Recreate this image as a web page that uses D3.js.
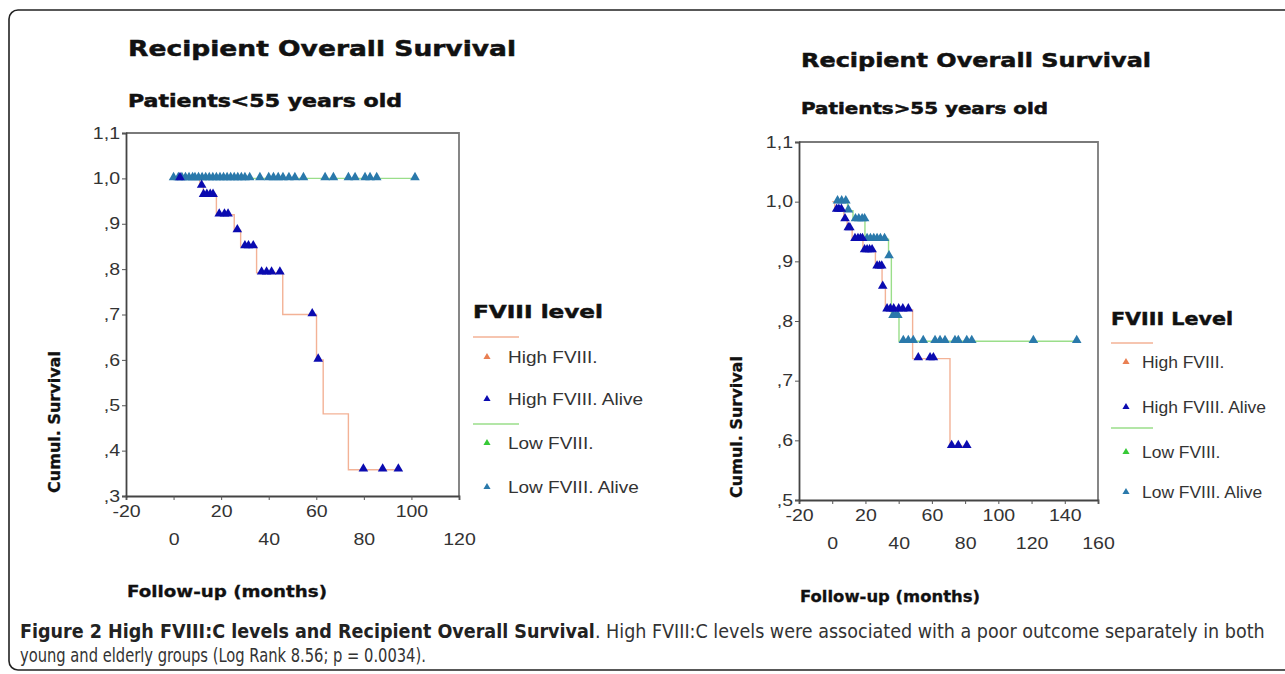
<!DOCTYPE html>
<html>
<head>
<meta charset="utf-8">
<script src="https://cdn.jsdelivr.net/npm/d3@7"></script>
<style>
  body { margin: 0; background: #fff; }
  svg { display: block; }
  .ttl { font-family: "DejaVu Sans", Verdana, sans-serif; font-weight: bold; fill: #111; stroke: #111; stroke-width: 0.5; }
  .tick text, .lbl { font-family: "Liberation Sans", Arial, sans-serif; fill: #333; }
  .axlab { font-family: "DejaVu Sans", Verdana, sans-serif; font-weight: bold; fill: #111; stroke: #111; stroke-width: 0.3; }
  .cap { font-family: "Liberation Sans Narrow", "DejaVu Sans Condensed", "Liberation Sans", sans-serif; fill: #333; }
</style>
</head>
<body>
<div id="chart"></div>
<script>
// ---- data ----
const legendLabels = ["High FVIII.", "High FVIII. Alive", "Low FVIII.", "Low FVIII. Alive"];
const xTicksLeft = [-20, 0, 20, 40, 60, 80, 100, 120];
const xTicksRight = [-20, 0, 20, 40, 60, 80, 100, 120, 140, 160];
const yTicksLeft = [0.3, 0.4, 0.5, 0.6, 0.7, 0.8, 0.9, 1.0, 1.1];
const yTicksRight = [0.5, 0.6, 0.7, 0.8, 0.9, 1.0, 1.1];

// patients < 55 : [month, survival] where the curve steps
const highStepsYoung = [[0, 1.0], [11, 0.983], [12.5, 0.963], [18, 0.92], [25.5, 0.885], [28.2, 0.85],
  [34.9, 0.792], [45.9, 0.70], [60.1, 0.60], [62.9, 0.481], [73.5, 0.358]];
const highEndYoung = 96;
const highCensYoung = [[2.7, 1.0], [11.8, 0.983], [12.6, 0.963], [14, 0.963], [15.4, 0.963], [16.6, 0.963],
  [19.2, 0.92], [21.4, 0.92], [22.9, 0.92], [26.8, 0.885], [30, 0.85], [31.5, 0.85], [33.5, 0.85],
  [37, 0.792], [39.1, 0.792], [41.2, 0.792], [44.7, 0.792], [58.3, 0.70], [60.8, 0.60],
  [79.8, 0.358], [87.9, 0.358], [94.5, 0.358]];
const lowStepsYoung = [[0, 1.0]];
const lowEndYoung = 101.5;
const lowCensYoung = [[0, 1.0], [2, 1.0], [3.5, 1.0], [5, 1.0], [6.5, 1.0], [8, 1.0], [9, 1.0], [10.5, 1.0],
  [12, 1.0], [13.5, 1.0], [15, 1.0], [16.5, 1.0], [18, 1.0], [19.5, 1.0], [21, 1.0], [22.5, 1.0], [24, 1.0],
  [25.5, 1.0], [27, 1.0], [28.5, 1.0], [30, 1.0], [32, 1.0], [36.3, 1.0], [40, 1.0], [42, 1.0], [44, 1.0],
  [46, 1.0], [48.5, 1.0], [51, 1.0], [54.6, 1.0], [63.7, 1.0], [67.2, 1.0], [73.5, 1.0], [76.3, 1.0],
  [80.5, 1.0], [82.6, 1.0], [85.4, 1.0], [101.5, 1.0]];

// patients > 55
const highStepsOld = [[0, 1.0], [1.5, 0.986], [7, 0.970], [9, 0.955], [12, 0.937], [18.5, 0.918],
  [26, 0.891], [30, 0.857], [32, 0.819], [48.4, 0.737], [70.9, 0.590]];
const highEndOld = 83;
const highCensOld = [[2.7, 0.986], [4, 0.986], [5.5, 0.986], [7.7, 0.970], [9.7, 0.955], [10.6, 0.955],
  [13.7, 0.937], [15.5, 0.937], [17, 0.937], [18.2, 0.937], [19.5, 0.918], [21, 0.918], [22.5, 0.918],
  [24, 0.918], [27, 0.891], [28.5, 0.891], [29.8, 0.891], [30.4, 0.857], [33, 0.819], [35, 0.819],
  [37, 0.819], [40, 0.819], [42.5, 0.819], [45.8, 0.819], [51.8, 0.737], [58.9, 0.737], [60.9, 0.737],
  [71.9, 0.590], [75.9, 0.590], [81, 0.590]];
const lowStepsOld = [[2, 1.0], [9.2, 0.985], [12.5, 0.970], [19.7, 0.937], [33.9, 0.908], [35.6, 0.808],
  [40.2, 0.766]];
const lowEndOld = 149.2;
const lowCensOld = [[3.2, 1.0], [5.7, 1.0], [8.2, 1.0], [9.7, 0.985], [14, 0.970], [16, 0.970], [18, 0.970],
  [19.5, 0.970], [21, 0.937], [23, 0.937], [25, 0.937], [27, 0.937], [29, 0.937], [31.5, 0.937],
  [34.2, 0.908], [36.6, 0.808], [38.2, 0.808], [39.5, 0.808], [42.8, 0.766], [45.8, 0.766], [48.8, 0.766],
  [54.8, 0.766], [61.9, 0.766], [64.9, 0.766], [67.9, 0.766], [73.9, 0.766], [75.9, 0.766], [81, 0.766],
  [84, 0.766], [121.1, 0.766], [147.2, 0.766]];

const colHighLine = "#f3b296", colLowLine = "#9ade8a";
const colHighDot = "#e97f52", colHighAlive = "#0b0bb0", colLowDot = "#36c936", colLowAlive = "#2a79ab";

const W = 1285, H = 674;
const svg = d3.select("#chart").append("svg").attr("width", W).attr("height", H);

// outer frame
svg.append("rect").attr("x", 9).attr("y", 10).attr("width", 1300).attr("height", 660)
  .attr("rx", 9).attr("fill", "none").attr("stroke", "#222").attr("stroke-width", 1.6);

function fit(sel, len) {
  sel.attr("textLength", len).attr("lengthAdjust", "spacingAndGlyphs");
}
// widen text by a factor (the source fonts are drawn wider than Arial)
function stretch(sel, k) {
  sel.each(function () {
    const w = this.getComputedTextLength();
    d3.select(this).attr("textLength", w * k).attr("lengthAdjust", "spacingAndGlyphs");
  });
}

const yFmt = d => d >= 1 ? d.toFixed(1).replace(".", ",") : "," + Math.round(d * 10);

function drawPanel(p) {
  const x = d3.scaleLinear().domain(p.xDom).range([p.left, p.right]);
  const y = d3.scaleLinear().domain(p.yDom).range([p.bottom, p.top]);
  const g = svg.append("g");

  // titles
  g.append("text").attr("class", "ttl").attr("x", p.left + 2).attr("y", p.titleY)
    .attr("font-size", p.titleSize).text("Recipient Overall Survival").call(fit, p.titleW);
  g.append("text").attr("class", "ttl").attr("x", p.left + 2).attr("y", p.subY)
    .attr("font-size", p.subSize).text(p.sub).call(fit, p.subW);

  // frame top/right
  g.append("path").attr("d", `M${p.left},${p.top}H${p.right}V${p.bottom}`)
    .attr("fill", "none").attr("stroke", "#7a7a7a").attr("stroke-width", 1.8);

  // axes
  const xa = g.append("g").attr("transform", `translate(0,${p.bottom})`)
    .call(d3.axisBottom(x).tickValues(p.xTicks).tickSize(4).tickFormat(d => String(d)));
  xa.selectAll(".tick text").style("font-size", "16px")
    .attr("dy", (d, i) => i % 2 === 0 ? "0.9em" : "2.65em").call(stretch, 1.22);
  const ya = g.append("g").attr("transform", `translate(${p.left},0)`)
    .call(d3.axisLeft(y).tickValues(p.yTicks).tickSize(4).tickFormat(yFmt));
  ya.selectAll(".tick text").style("font-size", "16px").attr("x", -6).call(stretch, 1.22);
  [xa, ya].forEach(a => {
    a.select(".domain").attr("stroke", "#444").attr("stroke-width", 1.8);
    a.selectAll(".tick line").attr("stroke", "#555");
  });

  // axis labels
  g.append("text").attr("class", "axlab").attr("font-size", 16).attr("text-anchor", "middle")
    .attr("transform", `translate(${p.yLabX},${p.yLabY}) rotate(-90)`).text("Cumul. Survival");
  g.append("text").attr("class", "axlab").attr("font-size", 15).attr("x", p.left + 1).attr("y", p.xLabY)
    .text("Follow-up (months)").call(fit, p.xLabW);

  // curves
  const line = d3.line().x(d => x(d[0])).y(d => y(d[1])).curve(d3.curveStepAfter);
  const curve = (steps, end, col) => {
    const pts = steps.concat([[end, steps[steps.length - 1][1]]]);
    g.append("path").attr("d", line(pts)).attr("fill", "none").attr("stroke", col).attr("stroke-width", 1.4);
  };
  curve(p.lowSteps, p.lowEnd, colLowLine);
  curve(p.highSteps, p.highEnd, colHighLine);

  const tri = d3.symbol().type(d3.symbolTriangle).size(40);
  const cens = (data, col) => g.append("g").selectAll("path").data(data).join("path")
    .attr("d", tri).attr("fill", col)
    .attr("transform", d => `translate(${x(d[0])},${y(d[1]) - 1})`);
  cens(p.lowCens, colLowAlive);
  cens(p.highCens, colHighAlive);

  // legend
  const L = p.leg;
  g.append("text").attr("class", "ttl").attr("x", L.x).attr("y", L.titleY).attr("font-size", 18)
    .text(p.legTitle).call(fit, L.titleW);
  const tri2 = d3.symbol().type(d3.symbolTriangle).size(22);
  const items = [
    {lab: legendLabels[0], col: colHighDot, y: L.ys[0]},
    {lab: legendLabels[1], col: colHighAlive, y: L.ys[1]},
    {lab: legendLabels[2], col: colLowDot, y: L.ys[2]},
    {lab: legendLabels[3], col: colLowAlive, y: L.ys[3]}
  ];
  [[L.lineY[0], colHighLine], [L.lineY[1], colLowLine]].forEach(([ly, c]) =>
    g.append("line").attr("x1", L.x).attr("x2", L.x + L.lineW).attr("y1", ly).attr("y2", ly)
      .attr("stroke", c).attr("stroke-width", 1.5));
  const labs = [];
  items.forEach(it => {
    g.append("path").attr("d", tri2).attr("fill", it.col).attr("transform", `translate(${L.triX},${it.y})`);
    labs.push(g.append("text").attr("class", "lbl").attr("x", L.textX).attr("y", it.y).attr("dy", "0.36em")
      .attr("font-size", L.fs).text(it.lab).node());
  });
  const k = L.refW / labs[1].getComputedTextLength();
  d3.selectAll(labs).call(stretch, k);
}

drawPanel({
  left: 126, right: 459, top: 133, bottom: 496,
  xDom: [-20, 120], yDom: [0.3, 1.1], xTicks: xTicksLeft, yTicks: yTicksLeft,
  titleY: 56, titleSize: 22, titleW: 388, sub: "Patients<55 years old", subY: 107, subSize: 17, subW: 274,
  yLabX: 60, yLabY: 422, xLabY: 597, xLabW: 200,
  highSteps: highStepsYoung, highEnd: highEndYoung, highCens: highCensYoung,
  lowSteps: lowStepsYoung, lowEnd: lowEndYoung, lowCens: lowCensYoung,
  legTitle: "FVIII level",
  leg: {x: 473, titleY: 318, titleW: 130, lineW: 46, lineY: [337, 424], triX: 487, textX: 508,
    ys: [357, 399, 443, 487], fs: 17, refW: 135}
});

drawPanel({
  left: 799, right: 1098, top: 142, bottom: 500,
  xDom: [-20, 160], yDom: [0.5, 1.1], xTicks: xTicksRight, yTicks: yTicksRight,
  titleY: 67, titleSize: 20, titleW: 350, sub: "Patients>55 years old", subY: 114, subSize: 16, subW: 247,
  yLabX: 742, yLabY: 427, xLabY: 602, xLabW: 180,
  highSteps: highStepsOld, highEnd: highEndOld, highCens: highCensOld,
  lowSteps: lowStepsOld, lowEnd: lowEndOld, lowCens: lowCensOld,
  legTitle: "FVIII Level",
  leg: {x: 1111, titleY: 325, titleW: 122, lineW: 42, lineY: [343, 428], triX: 1126, textX: 1142,
    ys: [362, 407, 452, 492], fs: 16, refW: 124}
});

// caption
const capLines = [
  [{t: "Figure 2 High FVIII:C levels and Recipient Overall Survival", b: true},
   {t: ". High FVIII:C levels were associated with a poor outcome separately in both", b: false}],
  [{t: "young and elderly groups (Log Rank 8.56; p = 0.0034).", b: false}]
];
const capW = [1246, 406], capY = [638, 662];
capLines.forEach((parts, i) => {
  const t = svg.append("text").attr("class", "cap").attr("font-size", 19).attr("y", 0).attr("x", 0);
  parts.forEach(pt => t.append("tspan").text(pt.t)
    .attr("font-weight", pt.b ? "bold" : "normal").attr("fill", pt.b ? "#222" : "#333"));
  const w = t.node().getComputedTextLength();
  t.attr("transform", `translate(20,${capY[i]}) scale(${capW[i] / w},1)`);
});
</script>
</body>
</html>
